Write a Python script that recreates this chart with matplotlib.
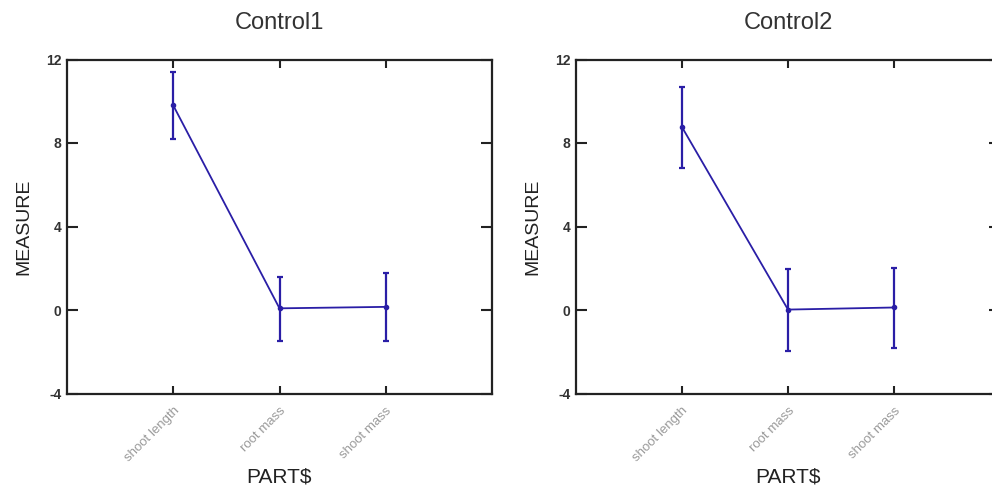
import matplotlib
matplotlib.use("Agg")
import matplotlib.pyplot as plt
import numpy as np

# ---- data ----
categories = ["shoot length", "root mass", "shoot mass"]
titles = ["Control1", "Control2"]
means_c1 = [9.8, 0.08, 0.15]
upper_c1 = [11.4, 1.6, 1.77]
lower_c1 = [8.2, -1.5, -1.47]
means_c2 = [8.76, 0.02, 0.12]
upper_c2 = [10.67, 1.95, 2.02]
lower_c2 = [6.8, -1.95, -1.83]
yticks = [-4, 0, 4, 8, 12]

series = [(means_c1, upper_c1, lower_c1), (means_c2, upper_c2, lower_c2)]

W, H = 992, 491
fig = plt.figure(figsize=(W / 100, H / 100), dpi=100)
fig.patch.set_facecolor("white")

line_color = "#2a1ea6"
font = "Liberation Sans"

# axes rectangles in pixels: (left, top, right, bottom)
rects = [(67, 59.5, 492, 393.5), (576, 59.5, 1000, 393.5)]

for i, (rect, (m, up, lo)) in enumerate(zip(rects, series)):
    l, t, r, b = rect
    ax = fig.add_axes([l / W, 1 - b / H, (r - l) / W, (b - t) / H])
    x = np.arange(1, len(categories) + 1)
    m = np.array(m); up = np.array(up); lo = np.array(lo)
    ax.errorbar(x, m, yerr=[m - lo, up - m], color=line_color, lw=1.3,
                elinewidth=1.6, capsize=2.5, capthick=1.6, marker="o", ms=3,
                clip_on=False)
    ax.set_xlim(0, 4)
    ax.set_ylim(-4, 12)
    ax.set_xticks(x)
    ax.set_xticklabels(categories, rotation=45, ha="right", va="top",
                       rotation_mode="anchor", fontsize=9.5, color="#9a9a9a",
                       family=font)
    ax.set_yticks(yticks)
    ax.set_yticklabels([str(v) for v in yticks], fontsize=10, fontweight="bold",
                       color="#333333", family=font)
    ax.tick_params(axis="x", direction="in", length=6, width=1.5, top=True,
                   bottom=True, color="#222222", pad=8)
    ax.tick_params(axis="y", direction="in", length=8, width=1.5, left=True,
                   right=True, color="#222222", pad=4)
    for sp in ax.spines.values():
        sp.set_linewidth(1.6)
        sp.set_color("#222222")
    ax.set_title(titles[i], fontsize=17, color="#333333", family=font, pad=22)
    ax.set_ylabel("MEASURE", fontsize=14, color="#222222", family=font)
    ax.yaxis.set_label_coords(-0.082, 0.5)
    ax.set_xlabel("PART$", fontsize=15, color="#222222", family=font,
                  va="center")
    ax.xaxis.set_label_coords(0.5, -0.25)

fig.savefig("out.png", dpi=100, facecolor="white")
